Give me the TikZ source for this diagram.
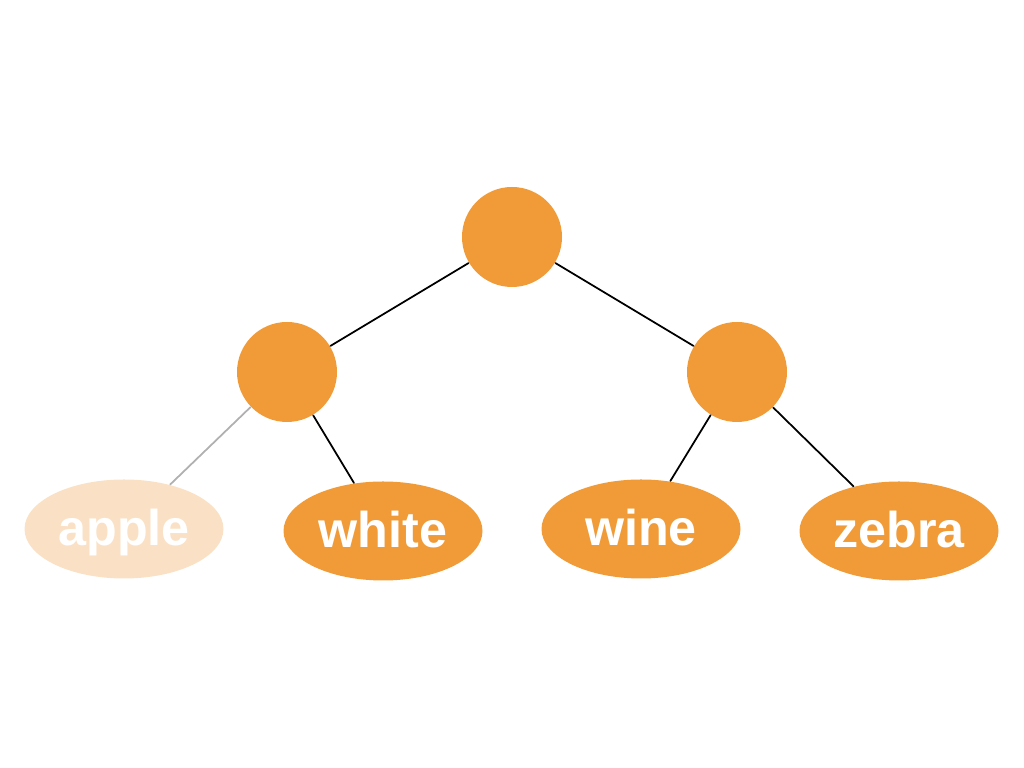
\documentclass[tikz,border=0pt]{standalone}
\usepackage{fontspec}
\setmainfont{Liberation Sans}
\usetikzlibrary{shapes.geometric}
\definecolor{treeorange}{HTML}{F09B38}
\definecolor{treefaded}{HTML}{FAE1C5}
\definecolor{edgegray}{HTML}{B0B0B0}
\begin{document}
\begin{tikzpicture}[line join=round, line cap=round, font=\fontsize{14.3}{17}\selectfont\bfseries]
	\tikzset{inner node/.style={circle, fill=treeorange, minimum size=1cm, inner sep=0pt},
		leaf node/.style={ellipse, fill=treeorange, text=white, minimum width=1.99cm, minimum height=0.99cm, inner sep=0pt, text height=1.8ex, text depth=0pt},
		tree edge/.style={line width=0.5pt, black}}
	
	\useasboundingbox (0,0) rectangle (10.24,7.68);
	% inner nodes
	\node[inner node] (root) at (5.12,5.31) {};
	\node[inner node] (left) at (2.87,3.96) {};
	\node[inner node] (right) at (7.37,3.96) {};
	% leaves
	\node[leaf node, fill=treefaded] (apple) at (1.24,2.39) {apple};
	\node[leaf node] (white) at (3.83,2.37) {white};
	\node[leaf node] (wine) at (6.41,2.39) {wine};
	\node[leaf node] (zebra) at (8.99,2.37) {zebra};
	% edges
	\draw[tree edge] (root)--(left);
	\draw[tree edge] (root)--(right);
	\draw[tree edge, edgegray] (left)--(apple);
	\draw[tree edge] (left)--(white);
	\draw[tree edge] (right)--(wine);
	\draw[tree edge] (right)--(zebra);
\end{tikzpicture}
\end{document}
